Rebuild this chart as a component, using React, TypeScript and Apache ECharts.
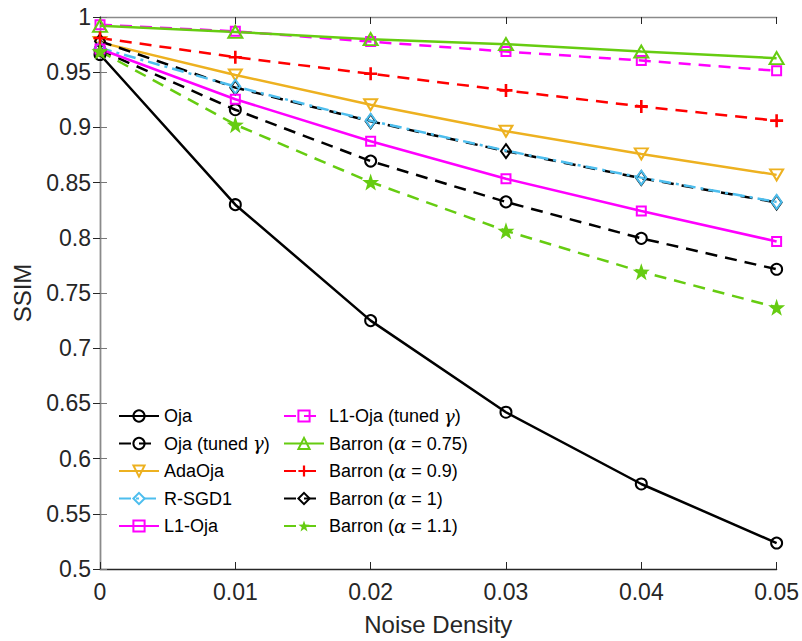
import React, { useEffect, useRef } from "react";
import * as echarts from "echarts";

const noiseDensity = [0, 0.01, 0.02, 0.03, 0.04, 0.05];
const xTickLabels = ["0", "0.01", "0.02", "0.03", "0.04", "0.05"];
const yTickLabels = ["0.5", "0.55", "0.6", "0.65", "0.7", "0.75", "0.8", "0.85", "0.9", "0.95", "1"];

const oja = [0.966, 0.83, 0.725, 0.642, 0.577, 0.5235];
const ojaTuned = [0.97, 0.916, 0.8695, 0.8325, 0.7995, 0.7715];
const adaOja = [0.977, 0.9475, 0.9205, 0.8965, 0.876, 0.857];
const rsgd1 = [0.972, 0.937, 0.906, 0.879, 0.8545, 0.8325];
const l1Oja = [0.971, 0.9255, 0.8875, 0.8535, 0.8243, 0.7967];
const l1OjaTuned = [0.993, 0.987, 0.9777, 0.9687, 0.9606, 0.9513];
const barron075 = [0.992, 0.9865, 0.9799, 0.9754, 0.9687, 0.9627];
const barron09 = [0.981, 0.9636, 0.9486, 0.9335, 0.919, 0.9061];
const barron1 = [0.978, 0.936, 0.9055, 0.8785, 0.854, 0.832];
const barron11 = [0.969, 0.9025, 0.8505, 0.8063, 0.7693, 0.737];

const STAR = "path://M10,0L12.35,6.76L19.51,6.91L13.8,11.24L15.88,18.09L10,14L4.12,18.09L6.2,11.24L0.49,6.91L7.65,6.76Z";
const PLUS = "path://M4,0H6V4H10V6H6V10H4V6H0V4H4Z";

const TXT = "#262626";
const FONT = "'Liberation Sans', Arial, Helvetica, sans-serif";
const DASH = [12, 8];

function pts(vals: number[]) {
  return noiseDensity.map((x, i) => [x, vals[i]]);
}

export default function App() {
  const ref = useRef<HTMLDivElement>(null);
  useEffect(() => {
    if (!ref.current) return;
    const chart = echarts.init(ref.current, undefined, { renderer: "svg" });
    const hollow = (c: string) => ({ color: "rgba(0,0,0,0)", borderColor: c, borderWidth: 2 });
    const mk = (
      name: string,
      vals: number[],
      color: string,
      type: any,
      symbol: string,
      symbolSize: any,
      filled: boolean,
      extra: any = {}
    ) => ({
      name,
      type: "line",
      data: pts(vals) as any[],
      symbol,
      symbolSize,
      showAllSymbol: true,
      lineStyle: { color, width: 2.5, type },
      itemStyle: filled ? { color, borderWidth: 0 } : hollow(color),
      emphasis: { disabled: true },
      ...extra,
    });
    const rsgdData = pts(rsgd1).map((p, i) => (i === 3 ? { value: p, symbol: "none" } : p));
    const rsgd = mk("R-SGD1", rsgd1, "#4DBEEE", [12, 5, 3, 5], "diamond", [10, 14], false);
    rsgd.data = rsgdData;
    const series: any[] = [
      mk("Oja", oja, "#000000", "solid", "circle", 11, false),
      mk("Oja (tuned γ)", ojaTuned, "#000000", DASH, "circle", 11, false),
      mk("AdaOja", adaOja, "#EDB120", "solid", "triangle", [13, 11], false, { symbolRotate: 180 }),
      mk("Barron (α = 1)", barron1, "#000000", DASH, "diamond", [10, 14], false),
      rsgd,
      mk("L1-Oja", l1Oja, "#FF00FF", "solid", "rect", 9, false),
      mk("L1-Oja (tuned γ)", l1OjaTuned, "#FF00FF", DASH, "rect", 9, false),
      mk("Barron (α = 0.75)", barron075, "#66CC11", "solid", "triangle", [14, 12], false),
      mk("Barron (α = 0.9)", barron09, "#FF0000", DASH, PLUS, 13, true),
      mk("Barron (α = 1.1)", barron11, "#66CC11", DASH, STAR, 17, true),
    ];

    const legendText = {
      fontSize: 18,
      color: "#000000",
      fontFamily: FONT,
      rich: {
        g: { fontSize: 18, fontStyle: "italic", fontFamily: "'DejaVu Serif', serif", color: "#000000" },
      },
    };
    const fmt = (n: string) => n.replace(/([αγ])/g, "{g|$1}");
    const commonLegend = {
      orient: "vertical",
      itemWidth: 40,
      itemHeight: 14,
      itemGap: 9.5,
      padding: 0,
      textStyle: legendText,
      formatter: fmt,
      selectedMode: false,
    };

    chart.setOption({
      animation: false,
      backgroundColor: "#ffffff",
      grid: { left: 100, right: 23, top: 17, bottom: 70, containLabel: false },
      legend: [
        { ...commonLegend, left: 118, top: 407, data: ["Oja", "Oja (tuned γ)", "AdaOja", "R-SGD1", "L1-Oja"] },
        {
          ...commonLegend,
          left: 283,
          top: 407,
          data: ["L1-Oja (tuned γ)", "Barron (α = 0.75)", "Barron (α = 0.9)", "Barron (α = 1)", "Barron (α = 1.1)"],
        },
      ],
      xAxis: [
        {
          type: "value",
          min: 0,
          max: 0.05,
          interval: 0.01,
          position: "bottom",
          name: "Noise Density",
          nameLocation: "middle",
          nameGap: 43,
          nameTextStyle: { fontSize: 24, color: TXT, fontFamily: FONT },
          axisLine: { show: true, lineStyle: { color: TXT, width: 1.3 } },
          axisTick: { show: true, inside: true, length: 7, lineStyle: { color: TXT } },
          axisLabel: {
            fontSize: 23,
            color: TXT,
            fontFamily: FONT,
            margin: 11,
            formatter: (v: number) => xTickLabels[Math.round(v / 0.01)] ?? "",
          },
          splitLine: { show: false },
        },
        {
          type: "value",
          min: 0,
          max: 0.05,
          interval: 0.01,
          position: "top",
          axisLine: { show: true, lineStyle: { color: "#8a8a8a", width: 1.3 } },
          axisTick: { show: true, inside: true, length: 7, lineStyle: { color: TXT } },
          axisLabel: { show: false },
          splitLine: { show: false },
        },
      ],
      yAxis: [
        {
          type: "value",
          min: 0.5,
          max: 1,
          interval: 0.05,
          position: "left",
          name: "SSIM",
          nameLocation: "middle",
          nameGap: 66,
          nameTextStyle: { fontSize: 24, color: TXT, fontFamily: FONT },
          axisLine: { show: true, lineStyle: { color: TXT, width: 1.3 } },
          axisTick: { show: true, inside: true, length: 7, lineStyle: { color: "#777777" } },
          axisLabel: {
            fontSize: 23,
            color: TXT,
            fontFamily: FONT,
            margin: 9,
            formatter: (v: number) => yTickLabels[Math.round((v - 0.5) / 0.05)] ?? "",
          },
          splitLine: { show: false },
        },
        {
          type: "value",
          min: 0.5,
          max: 1,
          interval: 0.05,
          position: "right",
          axisLine: { show: true, lineStyle: { color: "#8a8a8a", width: 1.3 } },
          axisTick: { show: true, inside: true, length: 7, lineStyle: { color: TXT } },
          axisLabel: { show: false },
          splitLine: { show: false },
        },
      ],
      series,
    });
    return () => chart.dispose();
  }, []);
  return <div ref={ref} style={{ position: "absolute", left: 0, top: 0, width: 802, height: 641 }} />;
}
